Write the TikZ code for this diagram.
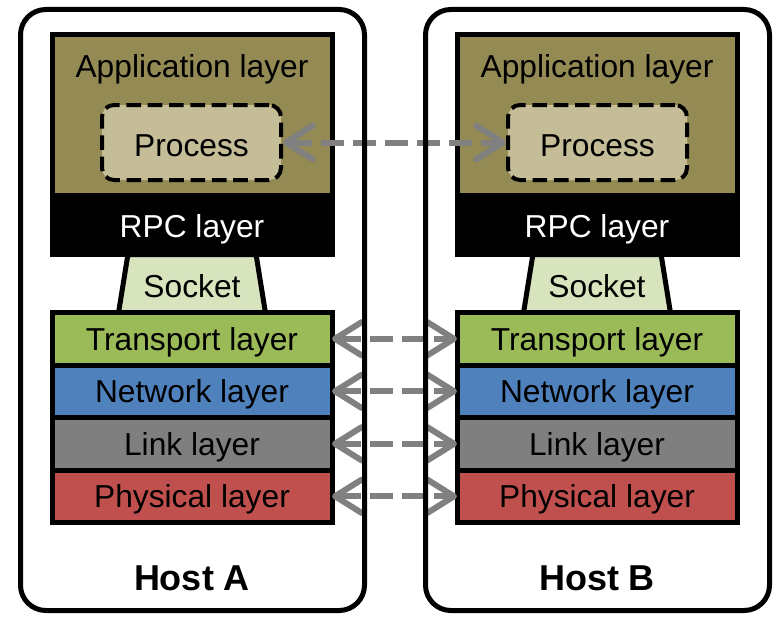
\documentclass[tikz,border=0pt]{standalone}
\usepackage{fontspec}
\setmainfont{Liberation Sans}
\usetikzlibrary{positioning,arrows.meta,shapes.geometric}

\definecolor{appOlive}{HTML}{948A54}
\definecolor{procTan}{HTML}{C4BD97}
\definecolor{sockGreen}{HTML}{D7E4BD}
\definecolor{transGreen}{HTML}{9BBB59}
\definecolor{netBlue}{HTML}{4F81BD}
\definecolor{linkGray}{HTML}{7F7F7F}
\definecolor{physRed}{HTML}{C0504D}
\definecolor{peerGray}{HTML}{808080}

\tikzset{
  lbl/.style={font=\fontsize{23.8}{28}\selectfont,text height=17pt,text depth=0pt},
  hostframe/.style={draw=black,line width=3.75pt,rounded corners=19pt},
  hostspot/.style={outer sep=0pt,inner sep=0pt,minimum width=344*0.75pt,minimum height=601*0.75pt},
  hostlabel/.style={font=\fontsize{27}{32}\selectfont\bfseries},
  appbox/.style={draw=black,line width=3.75pt,fill=appOlive,outer sep=0pt,minimum width=280*0.75pt,minimum height=161*0.75pt},
  rpcbox/.style={draw=black,line width=3.75pt,fill=black,text=white,lbl,text height=19pt,outer sep=0pt,inner sep=0pt,minimum width=280*0.75pt,minimum height=59*0.75pt},
  procbox/.style={draw=black,line width=3pt,fill=procTan,dash pattern=on 11pt off 5pt,rounded corners=9pt,lbl,text height=20.8pt,minimum width=179*0.75pt,minimum height=75*0.75pt},
  sockbox/.style={trapezium,trapezium left angle=75.7,trapezium right angle=75.7,trapezium stretches=true,draw=black,line width=3.75pt,fill=sockGreen,lbl,text height=20.8pt,outer sep=0pt,inner sep=0pt,minimum width=148*0.75pt,minimum height=58*0.75pt},
  layerbox/.style={draw=black,line width=3.75pt,lbl,outer sep=0pt,inner sep=0pt,minimum width=280*0.75pt,minimum height=52.5*0.75pt},
  peerarrow/.style={draw=peerGray,line width=4.5pt,dash pattern=on 17pt off 7pt,
    {Straight Barb[length=20pt,width=25pt,line cap=round,line join=round]}-{Straight Barb[length=20pt,width=25pt,line cap=round,line join=round]}}
}

\begin{document}
\begin{tikzpicture}[x=0.75pt,y=0.75pt,yscale=-1,xscale=1]
\useasboundingbox (0,0) rectangle (773,617);

%Host A
\node (hostA) at (192.5,310) [hostspot] {};
\node (appA) at (192,115) [appbox] {};
\node (appTxtA) at (192,66) [lbl] {Application layer};
\node (procA) at (191.5,142.5) [procbox] {Process};
\node (rpcA) [rpcbox,below=0pt of appA] {RPC layer};
\node (sockA) [sockbox,below=0pt of rpcA] {Socket};
\node (trA) [layerbox,fill=transGreen,below=0pt of sockA] {Transport layer};
\node (netA) [layerbox,fill=netBlue,below=0pt of trA] {Network layer};
\node (lnkA) [layerbox,fill=linkGray,below=0pt of netA] {Link layer};
\node (phyA) [layerbox,fill=physRed,below=0pt of lnkA] {Physical layer};
\node (labA) at (192,578.5) [hostlabel] {Host A};

%Host B
\node (hostB) at (597.5,310) [hostspot] {};
\node (appB) at (597,115) [appbox] {};
\node (appTxtB) at (597,66) [lbl] {Application layer};
\node (procB) at (597.5,142.5) [procbox] {Process};
\node (rpcB) [rpcbox,below=0pt of appB] {RPC layer};
\node (sockB) [sockbox,below=0pt of rpcB] {Socket};
\node (trB) [layerbox,fill=transGreen,below=0pt of sockB] {Transport layer};
\node (netB) [layerbox,fill=netBlue,below=0pt of trB] {Network layer};
\node (lnkB) [layerbox,fill=linkGray,below=0pt of netB] {Link layer};
\node (phyB) [layerbox,fill=physRed,below=0pt of lnkB] {Physical layer};
\node (labB) at (597,578.5) [hostlabel] {Host B};

%Peer arrows
\draw[peerarrow] (procA.east) -- (procB.west);
\draw[peerarrow] (trA.east) -- (trB.west);
\draw[peerarrow] (netA.east) -- (netB.west);
\draw[peerarrow] (lnkA.east) -- (lnkB.west);
\draw[peerarrow] (phyA.east) -- (phyB.west);

%Host frames on top
\draw[hostframe] (hostA.north west) rectangle (hostA.south east);
\draw[hostframe] (hostB.north west) rectangle (hostB.south east);

\end{tikzpicture}
\end{document}
